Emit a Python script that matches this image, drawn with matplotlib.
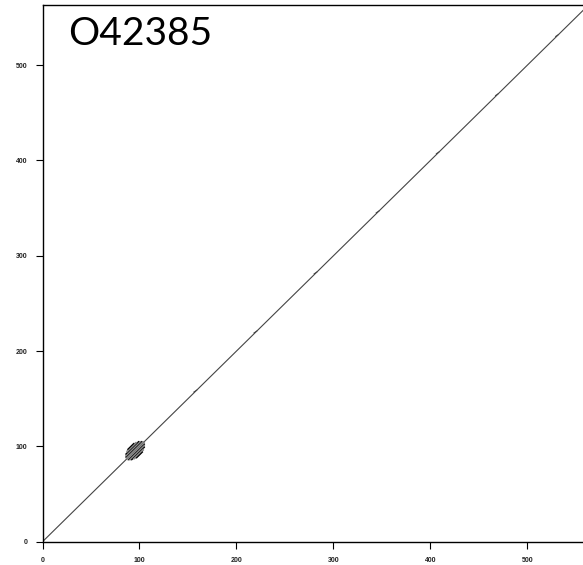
import matplotlib
matplotlib.use("Agg")
import matplotlib.pyplot as plt

seq_name = "O42385"
seq_len = 563
ticks = [0, 100, 200, 300, 400, 500]

# main self-match diagonal (start, end) residues
diag = [(0, 0), (563, 563)]

# short off-diagonal hits along the diagonal (x0, y0, x1, y1)
small_hits = [
    (156, 157, 159, 159),
    (218, 219, 221, 221),
    (280, 281, 283, 283),
    (344, 345, 347, 347),
    (406, 407, 409, 409),
    (467, 468, 470, 470),
    (529, 530, 532, 532),
]

# low complexity block around residue 96, upper half (x0, y0, x1, y1);
# the lower half is the mirror image
block_upper = [
    (87, 88, 104, 105),
    (86, 88, 103, 105),
    (86, 89, 102, 105),
    (86, 90, 101, 105),
    (86, 91, 100, 105),
    (86, 92, 99, 105),
    (87, 94, 97, 104),
    (87, 95, 96, 104),
    (88, 97, 94, 103),
]

fig = plt.figure(figsize=(5.83, 5.65), dpi=100)
ax = fig.add_axes([0.0729, 0.0412, 0.9367, 0.950])

ax.plot([diag[0][0], diag[1][0]], [diag[0][1], diag[1][1]],
        color="#444444", lw=0.8)
for x0, y0, x1, y1 in small_hits:
    ax.plot([x0, x1], [y0, y1], color="#444444", lw=0.7)
for i, (x0, y0, x1, y1) in enumerate(block_upper):
    col = "black" if (i + 1) % 3 == 0 else "#8a8a8a"
    ax.plot([x0, x1], [y0, y1], color=col, lw=0.9)
    ax.plot([y0, y1], [x0, x1], color=col, lw=0.9)

ax.set_xlim(0, seq_len)
ax.set_ylim(0, seq_len)
ax.set_xticks(ticks)
ax.set_yticks(ticks)
ax.set_xticklabels([str(t) for t in ticks])
ax.set_yticklabels([str(t) for t in ticks])
ax.tick_params(direction="out", length=5, width=0.8, labelsize=5,
               pad=6)
for lab in ax.get_xticklabels() + ax.get_yticklabels():
    lab.set_fontfamily("Liberation Sans")
    lab.set_fontweight("bold")
    lab.set_color("#222222")
for sp in ax.spines.values():
    sp.set_linewidth(1.0)

fig.text(68 / 583, 1 - 45 / 565, seq_name, fontsize=28,
         family="Lato", ha="left", va="baseline")

fig.savefig("out.png", dpi=100)
